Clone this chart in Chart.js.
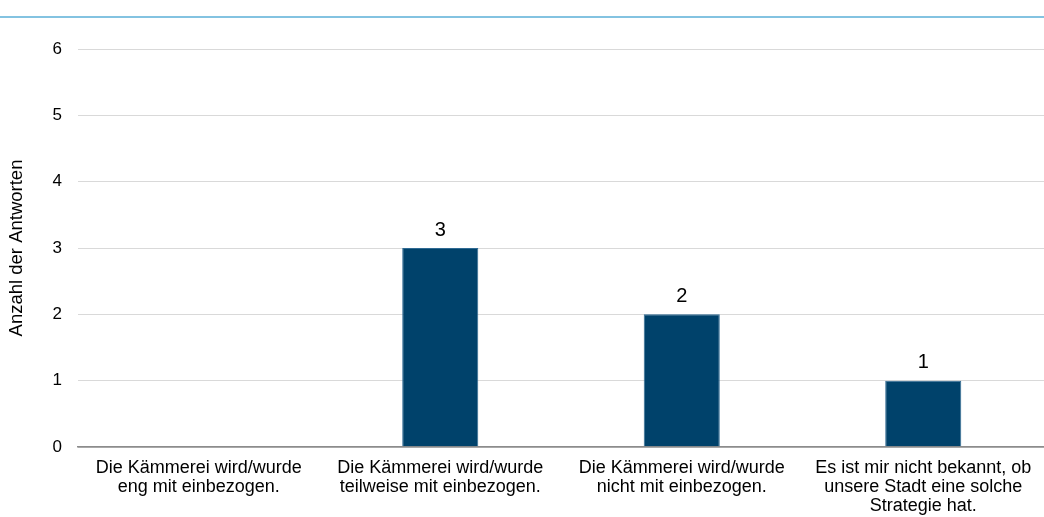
<!DOCTYPE html>
<html>
<head>
<meta charset="utf-8">
<script src="https://cdn.jsdelivr.net/npm/chart.js@4/dist/chart.umd.min.js"></script>
<style>
  html, body { margin: 0; padding: 0; background: #fff; }
  #wrap { width: 1044px; height: 517px; position: relative; }
</style>
</head>
<body>
<div id="wrap"><canvas id="chart"></canvas></div>
<script>
var categories = [
    ['Die Kämmerei wird/wurde', 'eng mit einbezogen.'],
    ['Die Kämmerei wird/wurde', 'teilweise mit einbezogen.'],
    ['Die Kämmerei wird/wurde', 'nicht mit einbezogen.'],
    ['Es ist mir nicht bekannt, ob', 'unsere Stadt eine solche', 'Strategie hat.']
];
var answers = [0, 3, 2, 1];
var yTicks = [0, 1, 2, 3, 4, 5, 6];
var yTitle = 'Anzahl der Antworten';

var FONT = "'Liberation Sans', Arial, sans-serif";

// thin blue rule at the very top
var topRule = {
    id: 'topRule',
    beforeDraw: function (chart) {
        var ctx = chart.ctx;
        ctx.save();
        ctx.strokeStyle = '#5aafd7';
        ctx.lineWidth = 1.5;
        ctx.beginPath();
        ctx.moveTo(0, 17);
        ctx.lineTo(chart.width, 17);
        ctx.stroke();
        ctx.restore();
    }
};

// value labels over the bars (skip zero)
var valueLabels = {
    id: 'valueLabels',
    afterDatasetsDraw: function (chart) {
        var ctx = chart.ctx;
        var meta = chart.getDatasetMeta(0);
        ctx.save();
        ctx.fillStyle = '#000';
        ctx.font = '20px ' + FONT;
        ctx.textAlign = 'center';
        ctx.textBaseline = 'bottom';
        meta.data.forEach(function (bar, i) {
            if (!answers[i]) return;
            ctx.fillText(String(answers[i]), bar.x, bar.y - 8);
        });
        ctx.restore();
    }
};

new Chart(document.getElementById('chart'), {
    type: 'bar',
    data: {
        labels: categories,
        datasets: [{
            label: yTitle,
            data: answers,
            backgroundColor: '#00426b',
            borderColor: '#2f6a93',
            borderWidth: 1,
            categoryPercentage: 1,
            barPercentage: 0.315
        }]
    },
    options: {
        responsive: true,
        maintainAspectRatio: false,
        animation: false,
        layout: { padding: { top: 49, right: -3, bottom: 0, left: 0 } },
        plugins: {
            legend: { display: false },
            tooltip: { enabled: false }
        },
        scales: {
            x: {
                grid: { display: false, drawTicks: false },
                border: { color: '#8c8c8c', width: 1.5 },
                ticks: {
                    color: '#000',
                    font: { family: FONT, size: 18, lineHeight: 1.07 },
                    maxRotation: 0,
                    autoSkip: false,
                    padding: 11
                },
                afterFit: function (s) { s.height = 70; }
            },
            y: {
                min: 0,
                max: 6,
                afterBuildTicks: function (s) {
                    s.ticks = yTicks.map(function (v) { return { value: v }; });
                },
                grid: {
                    color: function (c) { return c.tick && c.tick.value === 0 ? '#8c8c8c' : '#d9d9d9'; },
                    lineWidth: function (c) { return c.tick && c.tick.value === 0 ? 1.5 : 1; },
                    drawTicks: false
                },
                border: { display: false },
                ticks: {
                    color: '#000',
                    font: { family: FONT, size: 17 },
                    padding: 16
                },
                title: {
                    display: true,
                    text: yTitle,
                    color: '#000',
                    font: { family: FONT, size: 18.5 },
                    padding: { top: 6, bottom: 8 }
                },
                afterFit: function (s) { s.width = 78; }
            }
        }
    },
    plugins: [topRule, valueLabels]
});
</script>
</body>
</html>
